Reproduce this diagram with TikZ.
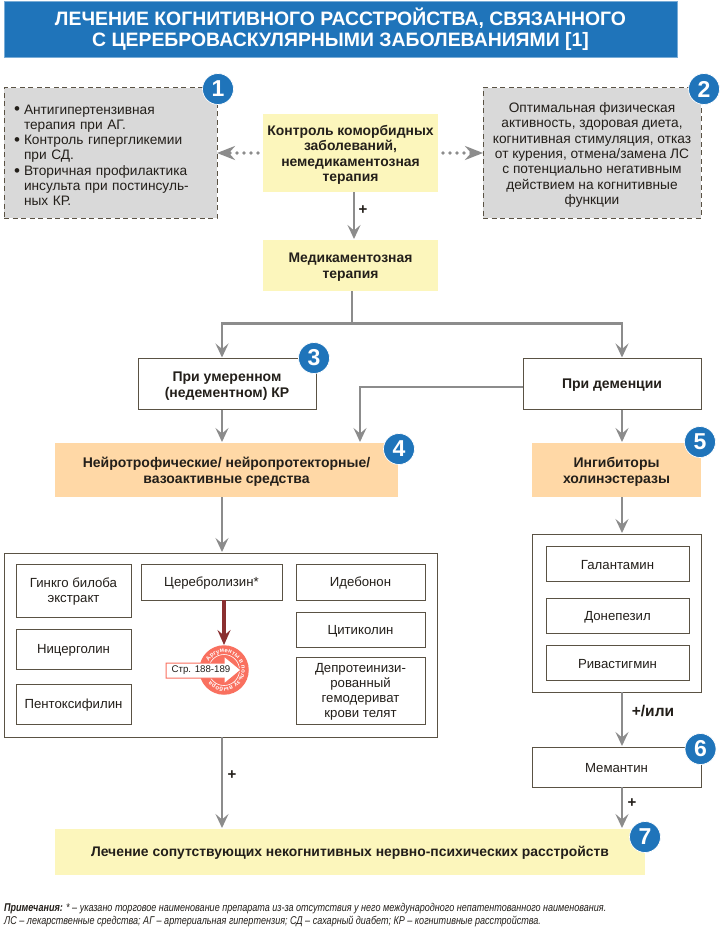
\documentclass[tikz,border=0pt]{standalone}
\usepackage{fontspec}
\setmainfont{Liberation Sans}
\newfontfamily\narrowf[FakeStretch=0.8]{Liberation Sans}
\usetikzlibrary{arrows.meta,decorations.text}
\definecolor{blu}{HTML}{1F74BA}
\definecolor{yel}{HTML}{FCF6BC}
\definecolor{ora}{HTML}{FFD8A6}
\definecolor{gre}{HTML}{D9D9D9}
\definecolor{lin}{HTML}{5A5244}
\definecolor{tx}{HTML}{231F1A}
\definecolor{arr}{HTML}{8C8C8C}
\definecolor{dred}{HTML}{8A2F30}
\definecolor{cor}{HTML}{F9705F}
\tikzset{
 bbase/.style={inner sep=2pt,outer sep=0pt,align=center,text=tx,font=\fontsize{13.2}{15}\selectfont},
 whitebox/.style={bbase,draw=lin,line width=1pt,fill=white},
 yelbox/.style={bbase,fill=yel,font=\fontsize{13.9}{15.3}\selectfont\bfseries},
 orabox/.style={bbase,fill=ora,font=\fontsize{14}{16}\selectfont\bfseries},
 blackhead/.style={whitebox,font=\fontsize{14}{16}\selectfont\bfseries},
 greybox/.style={bbase,draw=lin,line width=1pt,dash pattern=on 5pt off 3.5pt,fill=gre,font=\fontsize{13.7}{15.3}\selectfont},
 titlebox/.style={bbase,fill=blu,draw=blu!60!white,line width=.6pt,text=white,font=\fontsize{19.4}{21}\selectfont\bfseries},
 badge/.style={circle,fill=blu,draw=white,line width=.7pt,minimum size=31pt,inner sep=0pt,text=white,font=\fontsize{23}{23}\selectfont\bfseries},
 conn/.style={draw=arr,line width=2.5pt,shorten >=1pt,-{Stealth[length=14pt,width=13pt,inset=5.5pt]}},
 plainline/.style={draw=arr,line width=2.5pt},
 dots/.style={draw=arr,line width=3.6pt,line cap=round,dash pattern=on 0pt off 7pt,-{Stealth[length=18pt,width=14pt,inset=6pt]}},
 plus/.style={inner sep=0pt,text=tx,font=\fontsize{15}{15}\selectfont\bfseries},
}
\newcommand{\bx}[7]{\node[#2,minimum width={(#5-#3)*1pt},minimum height={(#6-#4)*1pt}] (#1) at ({(#3+#5)/2},{(#4+#6)/2}) {#7};}
\newcommand{\bul}{\makebox[10pt][l]{\raisebox{-.8pt}{\fontsize{17}{15}\selectfont •}}}
\newcommand{\ind}{\hspace*{10pt}}
\newcommand{\dn}[1]{\rule{0pt}{\dimexpr 10pt+#1pt\relax}}
\begin{document}
\begin{tikzpicture}[x=1pt,y=-1pt]
\useasboundingbox (0,0) rectangle (720,936);
\fill[white] (0,0) rectangle (720,936);
\bx{title}{titlebox}{4}{1}{677}{57}{ЛЕЧЕНИЕ КОГНИТИВНОГО РАССТРОЙСТВА, СВЯЗАННОГО\\С ЦЕРЕБРОВАСКУЛЯРНЫМИ ЗАБОЛЕВАНИЯМИ [1]}
\bx{gr1}{greybox,align=left,text width=193pt,inner xsep=10pt}{4}{88}{217}{218}{\dn{4}\bul Антигипертензивная\\\ind терапия при АГ.\\\bul Контроль гипергликемии\\\ind при СД.\\\bul Вторичная профилактика\\\ind инсульта при постинсуль-\\\ind ных КР.}
\bx{gr2}{greybox}{483}{88}{701}{218}{\dn{4}Оптимальная физическая\\активность, здоровая диета,\\когнитивная стимуляция, отказ\\от курения, отмена/замена ЛС\\с потенциально негативным\\действием на когнитивные\\функции}
\bx{ctrl}{yelbox}{263}{114}{438}{192}{\dn{4}Контроль коморбидных\\заболеваний,\\немедикаментозная\\терапия}
\bx{drug}{yelbox,font=\fontsize{13.9}{16}\selectfont\bfseries}{263}{240}{438}{291}{\dn{3}Медикаментозная\\терапия}
\bx{kr}{blackhead}{138}{358.5}{316}{409.5}{\dn{3}При умеренном\\(недементном) КР}
\bx{dem}{blackhead}{523}{358.5}{701}{409.5}{\dn{2}При деменции}
\bx{neuro}{orabox}{55}{443}{398}{497}{\dn{3}Нейротрофические/ нейропротекторные/\\вазоактивные средства}
\bx{chol}{orabox}{532}{443}{701}{497}{\dn{3}Ингибиторы\\холинэстеразы}
\bx{big}{whitebox}{4.5}{553}{437.5}{737}{}
\bx{ginkgo}{whitebox}{16}{564}{131}{617}{\dn{2}Гинкго билоба\\экстракт}
\bx{nicer}{whitebox}{16}{629}{131}{669}{\dn{2}Ницерголин}
\bx{pent}{whitebox}{16}{684}{131}{724}{\dn{2}Пентоксифилин}
\bx{cereb}{whitebox}{141}{564}{282}{600}{\dn{2}Церебролизин*}
\bx{ideb}{whitebox}{296}{564}{425}{600}{\dn{2}Идебонон}
\bx{citi}{whitebox}{296}{612}{425}{647}{\dn{2}Цитиколин}
\bx{depr}{whitebox}{296}{657}{425}{724}{\dn{2}Депротеинизи-\\рованный\\гемодериват\\крови телят}
\bx{cont}{whitebox}{532}{534}{701}{692}{}
\bx{gal}{whitebox}{546}{546}{689}{581}{\dn{2}Галантамин}
\bx{don}{whitebox}{546}{598}{689}{633}{\dn{2}Донепезил}
\bx{riv}{whitebox}{546}{645}{689}{680}{\dn{2}Ривастигмин}
\bx{mem}{whitebox}{532}{747}{701}{787}{\dn{2}Мемантин}
\bx{final}{yelbox}{55}{829}{645}{875}{\dn{2}Лечение сопутствующих некогнитивных нервно-психических расстройств}
% guide coordinates
\coordinate (xa) at (354,0);
\coordinate (xe) at (352,0);
\coordinate (xb) at (222,0);
\coordinate (xc) at (622,0);
\coordinate (xd) at (360,0);
\coordinate (ya) at (0,323.5);
\coordinate (yb) at (0,387);
\coordinate (yc) at (0,153);
% connectors
\draw[conn] (ctrl.south -| xa) -- (drug.north -| xa);
\draw[dots] (ctrl.west |- yc) ++(-5,0) -- (gr1.east |- yc);
\draw[dots] (ctrl.east |- yc) ++(5,0) -- (gr2.west |- yc);
\draw[plainline] (drug.south -| xe) -- (xe |- ya);
\draw[conn] (xb |- ya) -- (kr.north -| xb);
\draw[conn] (xc |- ya) -- (dem.north -| xc);
\draw[plainline,line cap=rect] (xb |- ya) -- (xc |- ya);
\draw[conn] (kr.south -| xb) -- (neuro.north -| xb);
\draw[conn] (dem.west |- yb) -- (xd |- yb) -- (neuro.north -| xd);
\draw[conn] (dem.south -| xc) -- (chol.north -| xc);
\draw[conn] (neuro.south -| xb) -- (big.north -| xb);
\draw[conn] (chol.south -| xc) -- (cont.north -| xc);
\draw[conn] (cont.south -| xc) -- (mem.north -| xc);
\draw[conn] (mem.south -| xc) -- (final.north -| xc);
\draw[conn] (big.south -| xb) -- (final.north -| xb);
% labels
\node[plus] (p1) at (363,210) {+};
\node[plus] (p2) at (232,775) {+};
\node[plus] (p3) at (632,803) {+};
\node[plus,font=\fontsize{15.5}{15.5}\selectfont\bfseries] (p4) at (653,711) {+/или};
% stamp
\node[circle,fill=cor,minimum size=49.5pt,inner sep=0pt] (st) at (224,670) {};
\begin{scope}[shift={(224,670)},x=1pt,y=1pt]
\draw[white,line width=.6pt] (0,0) circle (15.5);
\path[postaction={decorate,decoration={text along path,text align={fit to path},
  text={|\fontsize{6}{7}\selectfont\bfseries\color{white}|Аргументы в пользу выбора}}}]
  (150:17.5) arc[start angle=150,end angle=-140,radius=17.5];
\end{scope}
\draw[dred,line width=3.2pt,-{Stealth[length=15pt,width=13pt,inset=5.5pt]}] (cereb.south -| st) -- (st.north);
\fill[white,draw=cor,line width=1pt] (166,663) -- (224,663) -- (224,656) -- (241,670) -- (224,684) -- (224,678) -- (166,678) -- cycle;
\node[inner sep=0pt,text=tx,font=\fontsize{9.7}{9.7}\selectfont] (sttext) at (201,670.5) {Стр. 188-189};
% badges
\node[badge] (b1) at (218,89) {1};
\node[badge] (b2) at (704,89) {2};
\node[badge] (b3) at (314,358) {3};
\node[badge] (b4) at (399,449) {4};
\node[badge] (b5) at (700,442) {5};
\node[badge] (b6) at (700.5,749) {6};
\node[badge] (b7) at (645,837) {7};
% notes
\node[anchor=base west,inner sep=0pt,text=tx,font=\narrowf\fontsize{11.3}{11.3}\selectfont\itshape] (n1) at (4,911) {\textbf{Примечания:} * – указано торговое наименование препарата из-за отсутствия у него международного непатентованного наименования.};
\node[anchor=base west,inner sep=0pt,text=tx,font=\narrowf\fontsize{11.3}{11.3}\selectfont\itshape] (n2) at (4,924) {ЛС – лекарственные средства; АГ – артериальная гипертензия; СД – сахарный диабет; КР – когнитивные расстройства.};
\end{tikzpicture}
\end{document}
